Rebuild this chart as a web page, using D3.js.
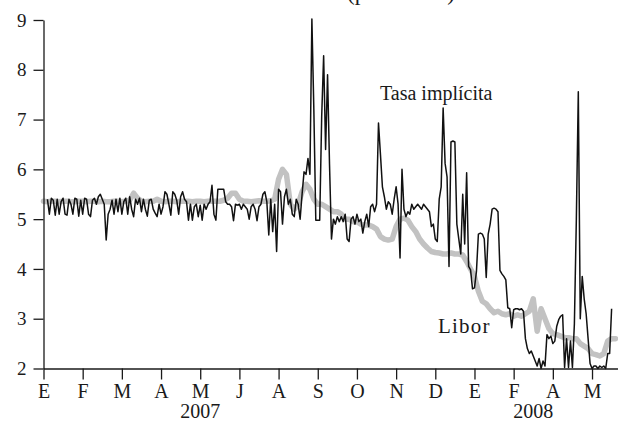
<!DOCTYPE html>
<html><head><meta charset="utf-8">
<script src="https://cdn.jsdelivr.net/npm/d3@7"></script>
<style>
html,body{margin:0;padding:0;background:#fff;}
svg{display:block;}
svg text{font-family:"Liberation Serif","Times New Roman",serif !important;fill:#1a1a1a;}
</style></head><body>
<svg id="chart" width="618" height="421"></svg>
<script>
// ---- data ----
const monthLabels = ["E","F","M","A","M","J","A","S","O","N","D","E","F","A","M"];
const yearLabels = ["2007","2008"];
const yearPositions = [4, 12.5];           // in month units
const yTickValues = [2,3,4,5,6,7,8,9];
const unitLabel = "(por ciento)";
const tasaLabel = "Tasa implícita";
const liborLabel = "Libor";

// implied rate, one observation every 0.05 month starting at month 0.1
const tasaStart = 0.1, tasaStep = 0.05;
const tasaValues = [
5.4,5.1,5.42,5.38,5.08,5.4,5.1,5.35,5.42,5.1,
5.08,5.4,5.3,5.1,5.42,5.4,5.06,5.38,5.1,5.42,
5.4,5.1,5.05,5.38,5.42,5.3,5.45,5.5,5.4,5.3,
4.58,5.1,5.2,5.38,5.1,5.4,5.15,5.42,5.1,5.35,
5.42,5.1,5.45,5.2,5.05,5.4,5.3,5.42,5.15,5.4,
5.2,5.06,5.38,5.4,5.2,5.12,5.05,5.3,5.1,5.25,
5.55,5.5,5.3,5.08,5.55,5.5,5.38,5.1,5.45,5.55,
5.4,5.35,4.98,5.3,4.98,5.25,5.3,5.05,5.28,4.98,
5.3,5.2,5.3,5.35,5.68,5.1,4.98,5.6,5.6,5.6,
5.6,5.35,5.3,5.3,5.25,4.97,5.3,5.28,5.3,5.2,
5.3,5.25,5.2,5.0,5.25,5.3,5.2,4.97,5.25,5.3,
5.5,5.55,5.35,4.68,5.4,4.75,5.3,4.35,5.6,5.55,
4.9,5.45,5.6,5.3,5.4,5.1,5.05,5.4,5.3,5.0,
5.5,5.95,5.9,6.22,5.9,9.02,7.2,4.98,4.98,4.98,
7.05,8.28,6.4,7.9,6.1,4.6,5.0,4.9,5.05,4.95,
5.05,4.95,5.1,4.6,4.55,5.0,5.05,4.9,5.1,4.95,
5.0,4.72,4.95,5.1,4.85,5.25,5.3,5.15,5.3,6.93,
6.3,5.65,5.45,5.2,5.35,5.3,5.1,5.4,5.65,5.3,
4.22,6.0,5.2,5.05,5.15,5.1,5.3,5.2,5.25,5.3,
5.25,5.2,5.3,5.25,5.2,5.15,4.85,4.9,4.6,4.55,
5.4,5.65,7.23,6.12,5.85,4.05,6.55,6.57,6.55,4.9,
4.6,4.3,5.5,4.5,5.93,4.05,3.98,3.6,3.62,3.95,
4.7,4.72,4.7,4.6,3.83,4.7,4.9,5.2,5.22,5.2,
5.15,3.97,3.9,3.85,3.78,3.22,3.2,2.82,3.18,3.2,
3.2,3.18,3.2,3.15,2.6,2.4,2.3,2.35,2.25,2.15,
2.05,2.2,2.0,2.15,2.05,2.68,2.6,2.65,2.5,2.55,
2.85,2.98,3.05,3.08,2.02,2.6,2.02,2.55,2.02,2.9,
5.0,7.56,3.0,3.85,3.4,3.1,2.6,2.1,2.0,2.05,
2.05,2.0,2.05,2.02,2.05,2.0,2.3,2.3,3.2
];

// Libor, one observation every 0.1 month starting at month 0
const liborStart = 0, liborStep = 0.1;
const liborValues = [
5.36,5.35,5.36,5.36,5.35,5.36,5.36,5.35,5.35,5.36,
5.36,5.35,5.36,5.36,5.35,5.36,5.35,5.35,5.36,5.36,
5.35,5.36,5.38,5.52,5.42,5.36,5.35,5.36,5.36,5.4,
5.36,5.35,5.36,5.36,5.35,5.36,5.36,5.36,5.35,5.36,
5.36,5.35,5.36,5.36,5.36,5.36,5.38,5.42,5.52,5.52,
5.4,5.36,5.36,5.35,5.36,5.37,5.36,5.36,5.37,5.4,
5.8,6.0,5.9,5.3,5.2,5.3,5.55,5.7,5.6,5.4,
5.3,5.3,5.25,5.2,5.15,5.15,5.1,5.0,5.0,4.95,
4.95,4.9,4.88,4.88,4.85,4.8,4.65,4.6,4.58,4.6,
4.85,5.0,5.02,4.98,4.85,4.75,4.6,4.5,4.42,4.35,
4.33,4.32,4.3,4.3,4.32,4.3,4.3,4.28,4.15,4.0,
3.85,3.55,3.35,3.3,3.2,3.12,3.15,3.1,3.08,3.1,
3.05,3.08,3.05,3.1,3.15,3.4,2.75,3.2,3.0,2.8,
2.7,2.68,2.65,2.62,2.62,2.6,2.6,2.5,2.45,2.4,
2.3,2.28,2.25,2.3,2.55,2.6,2.6
];

// ---- layout ----
const left = 43.5, monthPx = 39.18, plotTop = 20, plotBottom = 368.5, xMax = 14.65;
const ink = "#1a1a1a";
const serif = "'Liberation Serif', 'Times New Roman', serif";

const svg = d3.select("#chart");
const x = d3.scaleLinear().domain([0, xMax]).range([left, left + xMax * monthPx]);
const y = d3.scaleLinear().domain([2, 9]).range([plotBottom, plotTop]);

// Libor (gray, thick)
const liborLine = d3.line()
  .x((d, i) => x(liborStart + i * liborStep))
  .y(d => y(d));
svg.append("path")
  .datum(liborValues)
  .attr("d", liborLine)
  .attr("fill", "none")
  .attr("stroke", "#c2c2c2")
  .attr("stroke-width", 5.5)
  .attr("stroke-linejoin", "round")
  .attr("stroke-linecap", "round");

// Tasa implícita (black, thin)
const tasaLine = d3.line()
  .x((d, i) => x(tasaStart + i * tasaStep))
  .y(d => y(d));
svg.append("path")
  .datum(tasaValues)
  .attr("d", tasaLine)
  .attr("fill", "none")
  .attr("stroke", "#111")
  .attr("stroke-width", 1.5)
  .attr("stroke-linejoin", "round");

// axes
const yAxis = d3.axisLeft(y).tickValues(yTickValues).tickFormat(d3.format("d"))
  .tickSize(10).tickSizeOuter(0).tickPadding(7);
const gy = svg.append("g").attr("transform", `translate(${left},0)`).call(yAxis)
  .attr("color", ink).attr("font-family", serif).attr("font-size", 19);
gy.selectAll("path,line").attr("stroke-width", 1.3);
gy.selectAll("text").style("font-family", serif).style("font-size", "19px");

const xAxis = d3.axisBottom(x).tickValues(d3.range(monthLabels.length))
  .tickFormat(i => monthLabels[i]).tickSize(11).tickSizeOuter(0).tickPadding(4);
const gx = svg.append("g").attr("transform", `translate(0,${plotBottom})`).call(xAxis)
  .attr("color", ink).attr("font-family", serif).attr("font-size", 20);
gx.selectAll("path,line").attr("stroke-width", 1.3);
gx.selectAll("text").style("font-family", serif).style("font-size", "20px");

// years
svg.selectAll("text.year").data(yearLabels).enter().append("text")
  .attr("class", "year")
  .attr("x", (d, i) => x(yearPositions[i]))
  .attr("y", 418)
  .attr("text-anchor", "middle")
  .attr("font-size", 20)
  .text(d => d);

// series labels
svg.append("text").attr("x", 380).attr("y", 100).attr("font-size", 20).text(tasaLabel);
svg.append("text").attr("x", 438).attr("y", 333).attr("font-size", 21)
  .attr("letter-spacing", 1.2).text(liborLabel);

// unit label (cut off at the top edge as in the original)
svg.append("text").attr("x", 347).attr("y", 0).attr("font-size", 23).text(unitLabel);
</script>
</body></html>
